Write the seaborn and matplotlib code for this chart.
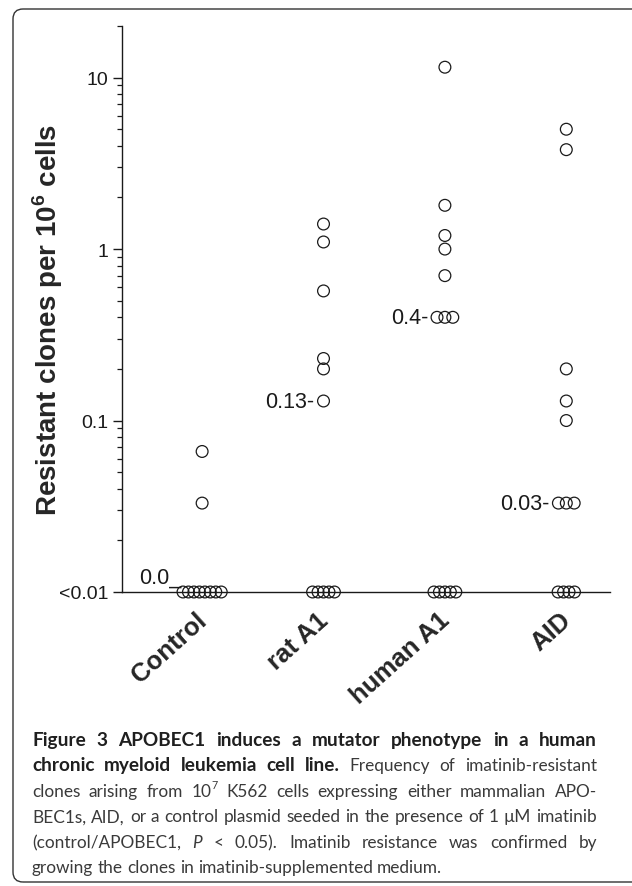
import numpy as np
import pandas as pd
import matplotlib
matplotlib.use('Agg')
import matplotlib.pyplot as plt
import matplotlib.transforms as mtransforms
from matplotlib.patches import FancyBboxPatch
from matplotlib.ticker import LogLocator, NullFormatter
import seaborn as sns

# clones per 10^6 cells, 0 = no resistant clones (shown as <0.01)
groups = ['Control', 'rat A1', 'human A1', 'AID']
control = [0.066, 0.033, 0, 0, 0, 0, 0, 0, 0, 0]
rat_a1 = [1.40, 1.10, 0.57, 0.23, 0.20, 0.13, 0, 0, 0, 0, 0]
human_a1 = [11.5, 1.8, 1.2, 1.0, 0.70, 0.4, 0.4, 0.4, 0, 0, 0, 0, 0]
aid = [5.0, 3.8, 0.20, 0.13, 0.10, 0.033, 0.033, 0.033, 0, 0, 0, 0]
floor = 0.01

caption_lines = [
    [('Figure 3 APOBEC1 induces a mutator phenotype in a human', 'b')],
    [('chronic myeloid leukemia cell line.', 'b'), (' Frequency of imatinib-resistant', 'r')],
    [('clones arising from 10', 'r'), ('7', 'sup'), (' K562 cells expressing either mammalian APO-', 'r')],
    [('BEC1s, AID, or a control plasmid seeded in the presence of 1 µM imatinib', 'r')],
    [('(control/APOBEC1, ', 'r'), ('P', 'i'), (' < 0.05). Imatinib resistance was confirmed by', 'r')],
    [('growing the clones in imatinib-supplemented medium.', 'r')],
]

# rows of equal values are spread side by side
rows = []
tie_left = {}
for gi, (g, vals) in enumerate(zip(groups, [control, rat_a1, human_a1, aid])):
    shown = np.maximum(np.array(vals, dtype=float), floor)
    for v in np.unique(shown):
        n = int((shown == v).sum())
        step = 0.045 if n > 3 else 0.065
        offs = (np.arange(n) - (n - 1) / 2) * step
        tie_left[(gi, v)] = gi + offs[0]
        for o in offs:
            rows.append({'group': g, 'x': gi + o, 'value': v})
df = pd.DataFrame(rows)

sns.set_style('ticks')
plt.rcParams['font.family'] = ['Liberation Sans', 'DejaVu Sans']
plt.rcParams['mathtext.fontset'] = 'custom'
plt.rcParams['mathtext.rm'] = 'Liberation Sans'
plt.rcParams['mathtext.bf'] = 'Liberation Sans:bold'

W, H = 632, 887
fig = plt.figure(figsize=(W / 100, H / 100), dpi=100)
fig.patch.set_facecolor('white')

# rounded frame, open at the right edge
frame = FancyBboxPatch((13, H - 883), 700, 873, boxstyle='round,pad=0,rounding_size=10',
                       transform=mtransforms.IdentityTransform(), fill=False,
                       edgecolor='#333333', linewidth=1.0)
fig.add_artist(frame)

ax = fig.add_axes([122 / W, 1 - 593 / H, (610 - 122) / W, (593 - 27) / H])
ax.set_facecolor('none')
sns.scatterplot(data=df, x='x', y='value', ax=ax, marker='o', s=72,
                facecolor='none', edgecolor='#1a1a1a', linewidth=0.9,
                clip_on=False, legend=False, zorder=3)
for c in ax.collections:
    c.set_facecolor('none')

ax.set_yscale('log')
ax.set_ylim(floor, 20)
ax.set_xlim(-0.66, 3.36)
ax.set_yticks([0.01, 0.1, 1, 10])
ax.set_yticklabels(['<0.01', '0.1', '1', '10'])
ax.yaxis.set_minor_locator(LogLocator(base=10, subs=np.arange(2, 10)))
ax.yaxis.set_minor_formatter(NullFormatter())
ax.tick_params(axis='y', which='major', length=6.5, width=1, labelsize=14, pad=3.5, colors='#1a1a1a')
ax.tick_params(axis='y', which='minor', length=3.5, width=0.9, colors='#1a1a1a')

ax.set_xticks(range(len(groups)))
ax.set_xticklabels(groups, rotation=42, ha='right', va='top', rotation_mode='anchor',
                   fontweight='bold', fontsize=18.5)
ax.tick_params(axis='x', length=0, pad=11)
shift = mtransforms.ScaledTranslation(-5 / 72, 0, fig.dpi_scale_trans)
for lbl in ax.get_xticklabels():
    lbl.set_transform(lbl.get_transform() + shift)

ax.set_xlabel('')
ax.set_ylabel('Resistant clones per 10$^{\\mathbf{6}}$ cells', fontweight='bold', fontsize=20)
ax.yaxis.set_label_coords(-0.117, 0.482)

sns.despine(ax=ax)
for sp in ['left', 'bottom']:
    ax.spines[sp].set_linewidth(1.0)
    ax.spines[sp].set_color('#1a1a1a')

# median labels
for gi, vals in enumerate([control, rat_a1, human_a1, aid]):
    med = float(np.median(vals))
    yv = max(med, floor)
    if med < floor:
        txt, dx, dy, va = f'{round(med, 2)}_', -2, 4, 'bottom'
    else:
        txt, dx, dy, va = f'{round(med, 2)}-', -9, 0, 'center'
    tr = mtransforms.offset_copy(ax.transData, fig=fig, x=dx, y=dy, units='dots')
    ax.text(tie_left[(gi, yv)], yv, txt, transform=tr, ha='right', va=va,
            fontsize=15.5, color='#1a1a1a')

# caption, justified between x0 and x1
x0, x1 = 32, 597
baselines = [746, 771.5, 797, 822.5, 848, 873.5]
cap_family = ['Lato', 'DejaVu Sans']
renderer = fig.canvas.get_renderer()


def make_words(segs):
    words = [[]]
    for text, st in segs:
        parts = text.split(' ')
        for k, p in enumerate(parts):
            if k > 0:
                words.append([])
            if p:
                words[-1].append((p, st))
    return [w for w in words if w]


def seg_text(s, st, sizes):
    kw = dict(family=cap_family, fontsize=sizes['r'], color='#3a3a3a',
              transform=mtransforms.IdentityTransform(), va='baseline', ha='left')
    if st == 'b':
        kw.update(fontweight='bold', color='#1f1f1f', fontsize=sizes['b'])
    elif st == 'i':
        kw.update(style='italic')
    elif st == 'sup':
        kw.update(fontsize=sizes['r'] * 0.62)
    return fig.text(0, 0, s, **kw)


def width_of(t):
    return t.get_window_extent(renderer).width


def natural(segs, sizes):
    tot = 0
    for s, st in segs:
        t = seg_text(s, st, sizes)
        tot += width_of(t)
        t.remove()
    return tot


# sizes so that the full lines fit with plain spaces
base = 13.5
probe = {'r': base, 'b': base}
s_r = min(base, base * min((x1 - x0 - 6) / natural(caption_lines[i], probe) for i in (2, 3, 4)))
s_b = min(base * (x1 - x0 - 10) / natural(caption_lines[0], probe), s_r * 1.1)
sizes = {'r': s_r, 'b': s_b}

for li, segs in enumerate(caption_lines):
    words = make_words(segs)
    placed = [[(seg_text(s, st, sizes), st) for s, st in w] for w in words]
    wwidths = [sum(width_of(t) for t, _ in p) for p in placed]
    p1 = seg_text('x x', 'r', sizes)
    p2 = seg_text('xx', 'r', sizes)
    space = width_of(p1) - width_of(p2)
    p1.remove()
    p2.remove()
    if li < len(caption_lines) - 1 and len(words) > 1:
        gap = (x1 - x0 - sum(wwidths)) / (len(words) - 1)
    else:
        gap = space
    x = x0
    yb = H - baselines[li]
    for p, ww in zip(placed, wwidths):
        cx = x
        for t, st in p:
            up = s_r * 0.45 * 100 / 72 if st == 'sup' else 0
            t.set_position((cx, yb + up))
            cx += width_of(t)
        x += ww + gap

fig.savefig('out.png', dpi=100, facecolor='white')
